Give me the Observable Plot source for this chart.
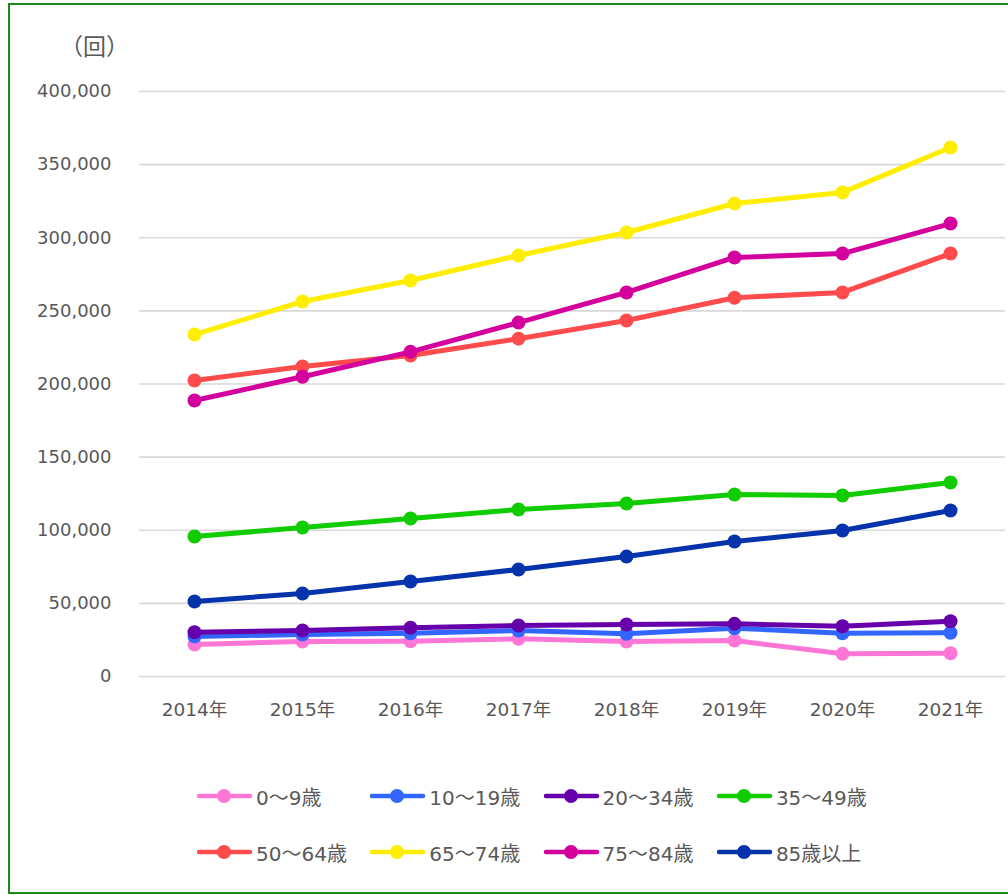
<!DOCTYPE html>
<html>
<head>
<meta charset="utf-8">
<script src="https://cdn.jsdelivr.net/npm/d3@7"></script>
<script src="https://cdn.jsdelivr.net/npm/@observablehq/plot@0.6"></script>
<style>
  body { margin: 0; background: #fff; font-family: "DejaVu Sans", "Noto Sans CJK JP", sans-serif; }
  #wrap { position: relative; width: 1008px; height: 895px; overflow: hidden; background: #fff; }
  #chart { position: absolute; left: 0; top: 0; }
  #frame { position: absolute; left: 8px; top: 3px; width: 1020px; height: 891px; box-sizing: border-box; border: 2.5px solid #1d871d; pointer-events: none; }
  #unit { position: absolute; left: 60px; top: 31px; font-size: 23px; line-height: 28px; color: #595959; font-family: "Noto Sans CJK JP", sans-serif; }
  #legend { position: absolute; left: 197px; top: 780px; width: 720px; }
  .row { display: flex; height: 56px; }
  .item { width: 173.3px; display: flex; align-items: center; height: 32px; font-size: 20px; color: #595959; white-space: nowrap; }
  .item svg { margin-right: 2px; flex: none; }
</style>
</head>
<body>
<div id="wrap">
  <div id="chart"></div>
  <div id="unit">（回）</div>
  <div id="legend"></div>
  <div id="frame"></div>
</div>
<script>
const years = ["2014年", "2015年", "2016年", "2017年", "2018年", "2019年", "2020年", "2021年"];
const seriesNames = ["0～9歳", "10～19歳", "20～34歳", "35～49歳", "50～64歳", "65～74歳", "75～84歳", "85歳以上"];
const seriesColors = ["#ff77d6", "#3366ff", "#6600aa", "#11cc00", "#ff4b4b", "#ffee00", "#d4009e", "#0433ab"];
const yTicks = [0, 50000, 100000, 150000, 200000, 250000, 300000, 350000, 400000];

const age0_9   = [21900, 23900, 24100, 25800, 23900, 24600, 15500, 15900];
const age10_19 = [27400, 28700, 29600, 31500, 29200, 33000, 29600, 29900];
const age20_34 = [30300, 31500, 33300, 34900, 35600, 36000, 34400, 37800];
const age35_49 = [95700, 101900, 108000, 114200, 118300, 124400, 123800, 132600];
const age50_64 = [202400, 212000, 219500, 231000, 243400, 259000, 262600, 289200];
const age65_74 = [233800, 256400, 270800, 287900, 303600, 323400, 331000, 361700];
const age75_84 = [188700, 205000, 222000, 242000, 262600, 286500, 289200, 309700];
const age85up  = [51300, 56800, 65000, 73200, 82000, 92300, 99800, 113500];

const seriesValues = [age0_9, age10_19, age20_34, age35_49, age50_64, age65_74, age75_84, age85up];

const data = seriesNames.flatMap((s, i) => years.map((y, j) => ({series: s, year: y, value: seriesValues[i][j]})));

const seriesMarks = seriesNames.flatMap((s) => {
  const rows = data.filter(d => d.series === s);
  return [
    Plot.line(rows, {x: "year", y: "value", stroke: "series", strokeWidth: 5, strokeLinejoin: "round", strokeLinecap: "round"}),
    Plot.dot(rows, {x: "year", y: "value", fill: "series", r: 7, stroke: "none"})
  ];
});

const chart = Plot.plot({
  width: 1008,
  height: 740,
  marginLeft: 139,
  marginRight: 3,
  marginTop: 91,
  marginBottom: 64,
  style: {fontSize: "18px", fontFamily: "'DejaVu Sans', 'Noto Sans CJK JP', sans-serif", color: "#595959", background: "transparent"},
  x: {type: "point", domain: years, padding: 0.5, label: null},
  y: {domain: [0, 400000], label: null},
  color: {domain: seriesNames, range: seriesColors},
  marks: [
    Plot.gridY(yTicks, {stroke: "#d9d9d9", strokeOpacity: 1, strokeWidth: 1.6}),
    Plot.axisY(yTicks, {tickSize: 0, tickPadding: 28, tickFormat: d3.format(","), label: null}),
    Plot.axisX({tickSize: 0, tickPadding: 26, fontSize: 18.5, label: null}),
    ...seriesMarks
  ]
});
document.getElementById("chart").appendChild(chart);

// Legend
const legend = document.getElementById("legend");
for (let r = 0; r < 2; r++) {
  const row = document.createElement("div");
  row.className = "row";
  for (let c = 0; c < 4; c++) {
    const i = r * 4 + c;
    const item = document.createElement("div");
    item.className = "item";
    const svg = d3.create("svg").attr("width", 57).attr("height", 16);
    svg.append("line").attr("x1", 2).attr("x2", 53).attr("y1", 8).attr("y2", 8)
      .attr("stroke", seriesColors[i]).attr("stroke-width", 4.5).attr("stroke-linecap", "round");
    svg.append("circle").attr("cx", 27).attr("cy", 8).attr("r", 7).attr("fill", seriesColors[i]);
    item.appendChild(svg.node());
    const span = document.createElement("span");
    span.textContent = seriesNames[i];
    item.appendChild(span);
    row.appendChild(item);
  }
  legend.appendChild(row);
}
</script>
</body>
</html>
